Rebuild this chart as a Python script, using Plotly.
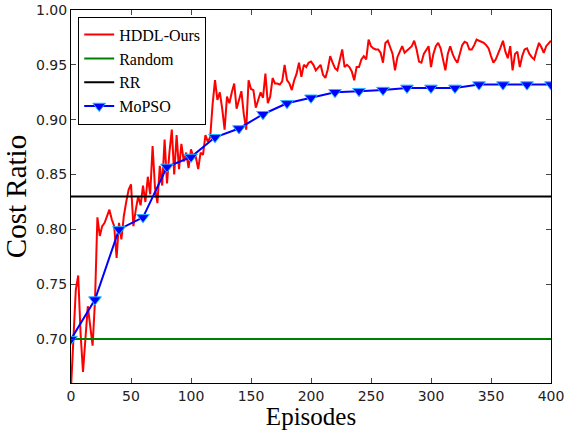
import plotly.graph_objects as go

hddl_episodes = list(range(0, 401, 2))
hddl_values = [
    0.655, 0.700, 0.745, 0.758, 0.705, 0.670, 0.705, 0.730, 0.712, 0.694,
    0.735, 0.811, 0.794, 0.803, 0.806, 0.812, 0.818, 0.809, 0.803, 0.774,
    0.806, 0.791, 0.812, 0.825, 0.836, 0.841, 0.803, 0.818, 0.830, 0.822,
    0.840, 0.825, 0.848, 0.832, 0.876, 0.838, 0.824, 0.858, 0.840, 0.882,
    0.842, 0.870, 0.891, 0.850, 0.886, 0.855, 0.878, 0.862, 0.870, 0.856,
    0.873, 0.866, 0.866, 0.855, 0.870, 0.868, 0.886, 0.880, 0.884, 0.914,
    0.936, 0.918, 0.925, 0.910, 0.891, 0.921, 0.915, 0.925, 0.933, 0.910,
    0.918, 0.926, 0.905, 0.891, 0.936, 0.928, 0.927, 0.911, 0.918, 0.925,
    0.920, 0.942, 0.915, 0.921, 0.938, 0.933, 0.933, 0.932, 0.935, 0.950,
    0.936, 0.933, 0.927, 0.936, 0.942, 0.952, 0.939, 0.950, 0.948, 0.952,
    0.953, 0.950, 0.945, 0.948, 0.950, 0.941, 0.938, 0.946, 0.958, 0.952,
    0.947, 0.945, 0.955, 0.964, 0.948, 0.950, 0.948, 0.944, 0.936, 0.948,
    0.948, 0.955, 0.958, 0.955, 0.973, 0.967, 0.965, 0.964, 0.964, 0.961,
    0.952, 0.970, 0.972, 0.966, 0.960, 0.945, 0.957, 0.962, 0.967, 0.961,
    0.963, 0.965, 0.967, 0.972, 0.964, 0.953, 0.952, 0.960, 0.964, 0.967,
    0.948, 0.960, 0.967, 0.970, 0.965, 0.955, 0.945, 0.960, 0.967, 0.960,
    0.955, 0.952, 0.961, 0.968, 0.971, 0.970, 0.964, 0.964, 0.968, 0.973,
    0.972, 0.971, 0.970, 0.968, 0.965, 0.958, 0.952, 0.955, 0.960, 0.966,
    0.972, 0.962, 0.956, 0.967, 0.945, 0.960, 0.962, 0.948, 0.958, 0.964,
    0.965, 0.960, 0.957, 0.955, 0.963, 0.970, 0.966, 0.961, 0.967, 0.970,
    0.972,
]

baseline_x = [0, 400]
random_values = [0.70, 0.70]
rr_values = [0.83, 0.83]

mopso_episodes = list(range(0, 401, 20))
mopso_values = [
    0.700, 0.736, 0.800, 0.811, 0.857, 0.866, 0.884, 0.892, 0.905, 0.915,
    0.920, 0.925, 0.926, 0.927, 0.929, 0.929, 0.929, 0.932, 0.932, 0.932,
    0.932,
]

x_ticks = [0, 50, 100, 150, 200, 250, 300, 350, 400]
y_ticks = [0.70, 0.75, 0.80, 0.85, 0.90, 0.95, 1.00]

fig = go.Figure()
fig.add_trace(go.Scatter(x=hddl_episodes, y=hddl_values, mode="lines",
                         name="HDDL-Ours", line=dict(color="#ff0000", width=2)))
fig.add_trace(go.Scatter(x=baseline_x, y=random_values, mode="lines",
                         name="Random", line=dict(color="#008000", width=2)))
fig.add_trace(go.Scatter(x=baseline_x, y=rr_values, mode="lines",
                         name="RR", line=dict(color="#000000", width=2)))
fig.add_trace(go.Scatter(x=mopso_episodes, y=mopso_values, mode="lines+markers",
                         name="MoPSO", line=dict(color="#0000ff", width=2),
                         marker=dict(symbol="triangle-down", size=11, color="#0000ff",
                                     line=dict(color="#1fb8ff", width=1))))

tick_font = dict(family="DejaVu Sans", size=14, color="#222222")

fig.update_layout(
    width=564, height=430,
    margin=dict(l=71, r=13, t=10, b=47),
    paper_bgcolor="white", plot_bgcolor="white",
    showlegend=True,
    legend=dict(x=0.015, y=0.982, xanchor="left", yanchor="top",
                bgcolor="white", bordercolor="black", borderwidth=1,
                font=dict(family="Liberation Serif", size=16, color="#000000"),
                itemwidth=30),
    xaxis=dict(range=[0, 400], tickvals=x_ticks, ticks="inside", ticklen=5,
               showline=True, linecolor="black", linewidth=1, mirror="allticks",
               showgrid=False, zeroline=False, tickfont=tick_font,
               automargin=False, ticklabeloverflow="allow",
               title=dict(text="Episodes",
                          font=dict(family="Liberation Serif", size=25, color="#000000"),
                          standoff=2)),
    yaxis=dict(range=[0.66, 1.00], tickvals=y_ticks, tickformat=".2f",
               ticks="inside", ticklen=5,
               showline=True, linecolor="black", linewidth=1, mirror="allticks",
               showgrid=False, zeroline=False, tickfont=tick_font,
               automargin=False, ticklabeloverflow="allow",
               title=dict(text="Cost Ratio",
                          font=dict(family="Liberation Serif", size=29, color="#000000"),
                          standoff=2)),
)

fig.write_html("out.html")
